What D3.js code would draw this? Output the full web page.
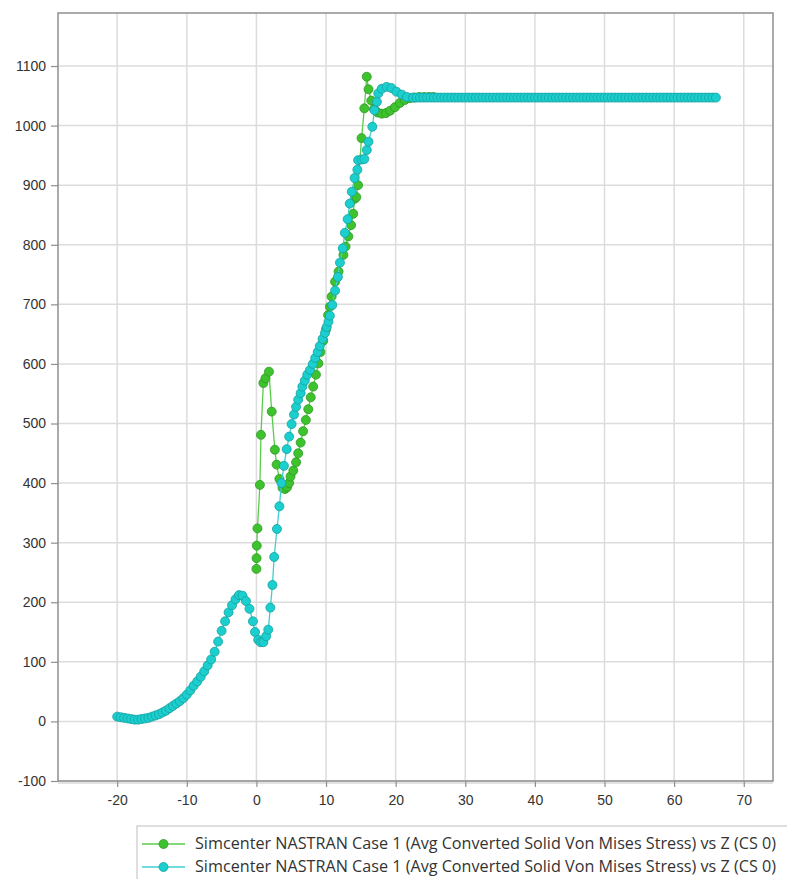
<!DOCTYPE html>
<html>
<head>
<meta charset="utf-8">
<script src="https://cdn.jsdelivr.net/npm/d3@7"></script>
<style>
  body { margin: 0; background: #fff; }
  svg { display: block; font-family: "Open Sans", "Noto Sans", sans-serif; }
</style>
</head>
<body>
<svg id="chart" width="787" height="879"></svg>
<script>
const xTicks = [-20, -10, 0, 10, 20, 30, 40, 50, 60, 70];
const yTicks = [-100, 0, 100, 200, 300, 400, 500, 600, 700, 800, 900, 1000, 1100];

const legendLabels = [
  "Simcenter NASTRAN Case 1 (Avg Converted Solid Von Mises Stress) vs Z (CS 0)",
  "Simcenter NASTRAN Case 1 (Avg Converted Solid Von Mises Stress) vs Z (CS 0)"
];

// green series (z, stress)
const greenZ = [0, 0.02, 0.05, 0.15, 0.5, 0.65, 1.0, 1.3, 1.8, 2.2, 2.65, 2.9, 3.3, 3.75, 4.1, 4.4, 4.7, 4.9,
  5.3, 5.7, 6.0, 6.35, 6.7, 7.1, 7.45, 7.8, 8.15, 8.55, 8.9, 9.2, 9.6, 10.0, 10.3, 10.55, 10.8, 11.3, 11.8,
  12.5, 12.8, 13.2, 13.6, 13.9, 14.1, 14.35, 14.6, 15.1, 15.5, 15.85, 16.1, 16.5, 16.9, 17.4, 18.0, 18.6,
  19.2, 19.9, 20.6, 21.3, 22.0, 22.7, 23.4, 24.1, 24.8, 25.4];
const greenV = [256, 274, 295, 324, 397, 481, 568, 576, 587, 520, 456, 431, 407, 392, 390, 393, 400, 411,
  421, 435, 450, 468, 487, 506, 524, 544, 562, 582, 601, 620, 639, 658, 682, 696, 713, 738, 755,
  783, 797, 814, 833, 852, 877, 880, 900, 979, 1029, 1082, 1061, 1042, 1028, 1022, 1020, 1021,
  1025, 1031, 1038, 1043, 1046, 1047, 1048, 1048, 1048, 1048];

// cyan series (z, stress)
const cyanZ = [-20, -19.5, -19, -18.5, -18, -17.5, -17, -16.5, -16, -15.5, -15, -14.5, -14, -13.5, -13,
  -12.5, -12, -11.5, -11, -10.5, -10, -9.5, -9, -8.5, -8, -7.5, -7, -6.5, -6, -5.5, -5, -4.5, -4, -3.5,
  -3, -2.5, -2, -1.5, -1, -0.5, -0.2, 0.25, 0.6, 1.0, 1.4, 1.7, 2.0, 2.3, 2.55, 2.95, 3.3, 3.6, 3.95,
  4.35, 4.7, 5.05, 5.4, 5.7, 6.0, 6.35, 6.6, 6.95, 7.3, 7.7, 8.1, 8.45, 8.8, 9.1, 9.5, 9.85, 10.1,
  10.35, 10.55, 10.9, 11.3, 11.7, 12.0, 12.4, 12.7, 13.1, 13.4, 13.7, 14.1, 14.5, 14.6, 15.1, 15.5,
  15.85, 16.1, 16.65, 16.95, 17.3, 17.5, 18.0, 18.7, 19.4, 20.1, 20.9, 21.6,
  22.5, 23, 23.5, 24, 24.5, 25, 25.5, 26, 26.5, 27, 27.5, 28, 28.5, 29, 29.5, 30, 30.5, 31, 31.5, 32,
  32.5, 33, 33.5, 34, 34.5, 35, 35.5, 36, 36.5, 37, 37.5, 38, 38.5, 39, 39.5, 40, 40.5, 41, 41.5, 42,
  42.5, 43, 43.5, 44, 44.5, 45, 45.5, 46, 46.5, 47, 47.5, 48, 48.5, 49, 49.5, 50, 50.5, 51, 51.5, 52,
  52.5, 53, 53.5, 54, 54.5, 55, 55.5, 56, 56.5, 57, 57.5, 58, 58.5, 59, 59.5, 60, 60.5, 61, 61.5, 62,
  62.5, 63, 63.5, 64, 64.5, 65, 65.5, 66];
const cyanV = [8, 7, 6, 5, 4, 3, 3, 4, 5, 6, 8, 10, 12, 15, 18,
  22, 26, 30, 34, 39, 45, 52, 60, 67, 75, 84, 94, 104, 117, 134, 152, 168, 183, 195,
  205, 212, 211, 202, 189, 168, 150, 137, 133, 133, 143, 154, 191, 229, 276, 323, 361, 400, 429,
  457, 478, 499, 515, 528, 540, 551, 562, 572, 582, 590, 600, 610, 620, 630, 642, 652, 662,
  671, 681, 699, 723, 746, 770, 794, 820, 843, 869, 889, 912, 926, 942, 943, 944,
  959, 973, 998, 1026, 1040, 1054, 1062, 1065, 1063, 1057, 1052, 1048,
  1047, 1047, 1047, 1047, 1047, 1047, 1047, 1047, 1047, 1047, 1047, 1047, 1047, 1047, 1047, 1047, 1047, 1047, 1047, 1047,
  1047, 1047, 1047, 1047, 1047, 1047, 1047, 1047, 1047, 1047, 1047, 1047, 1047, 1047, 1047, 1047, 1047, 1047, 1047, 1047,
  1047, 1047, 1047, 1047, 1047, 1047, 1047, 1047, 1047, 1047, 1047, 1047, 1047, 1047, 1047, 1047, 1047, 1047, 1047, 1047,
  1047, 1047, 1047, 1047, 1047, 1047, 1047, 1047, 1047, 1047, 1047, 1047, 1047, 1047, 1047, 1047, 1047, 1047, 1047, 1047,
  1047, 1047, 1047, 1047, 1047, 1047, 1047, 1047];

const series = [
  { z: greenZ, v: greenV, line: "#5ccb4c", fill: "#3ec22e", stroke: "#2c9a22" },
  { z: cyanZ, v: cyanV, line: "#3fcfcf", fill: "#1ccfcf", stroke: "#15a0a0" }
];

const svg = d3.select("#chart");
const plotLeft = 58, plotRight = 773, plotTop = 13, plotBottom = 781;

const x = d3.scaleLinear().domain([-28.5, 74.2]).range([plotLeft, plotRight]);
const y = d3.scaleLinear().domain([-100, 1189]).range([plotBottom, plotTop]);

// grid
svg.append("g").selectAll("line").data(xTicks).enter().append("line")
  .attr("x1", d => x(d)).attr("x2", d => x(d))
  .attr("y1", plotTop).attr("y2", plotBottom)
  .attr("stroke", "#dcdcdc").attr("stroke-width", 1.5);
svg.append("g").selectAll("line").data(yTicks).enter().append("line")
  .attr("x1", plotLeft).attr("x2", plotRight)
  .attr("y1", d => y(d)).attr("y2", d => y(d))
  .attr("stroke", "#dcdcdc").attr("stroke-width", 1.5);

// frame
svg.append("rect")
  .attr("x", plotLeft).attr("y", plotTop)
  .attr("width", plotRight - plotLeft).attr("height", plotBottom - plotTop)
  .attr("fill", "none").attr("stroke", "#8f8f8f").attr("stroke-width", 1.5);
svg.append("line")
  .attr("x1", plotLeft).attr("x2", plotRight)
  .attr("y1", plotBottom + 2).attr("y2", plotBottom + 2)
  .attr("stroke", "#e2e2e2").attr("stroke-width", 2);

// axes (plain hyphen for negatives, like the original)
const fmt = d => String(d);
const xAxis = svg.append("g")
  .attr("transform", "translate(0," + plotBottom + ")")
  .call(d3.axisBottom(x).tickValues(xTicks).tickFormat(fmt).tickSize(6).tickPadding(8));
const yAxis = svg.append("g")
  .attr("transform", "translate(" + plotLeft + ",0)")
  .call(d3.axisLeft(y).tickValues(yTicks).tickFormat(fmt).tickSize(7).tickPadding(5));
[xAxis, yAxis].forEach(a => {
  a.select(".domain").remove();
  a.selectAll(".tick line").attr("stroke", "#8f8f8f").attr("stroke-width", 1.2);
  a.selectAll(".tick text").attr("fill", "#333").style("font-size", "14px");
});

// series
const line = d3.line().x(d => x(d[0])).y(d => y(d[1]));
series.forEach(s => {
  const pts = s.z.map((z, i) => [z, s.v[i]]);
  svg.append("path")
    .datum(pts)
    .attr("d", line)
    .attr("fill", "none")
    .attr("stroke", s.line)
    .attr("stroke-width", 1.3);
  svg.append("g").selectAll("circle").data(pts).enter().append("circle")
    .attr("cx", d => x(d[0])).attr("cy", d => y(d[1]))
    .attr("r", 4.5)
    .attr("fill", s.fill)
    .attr("stroke", s.stroke)
    .attr("stroke-width", 0.8);
});

// legend
const legend = svg.append("g");
legend.append("rect")
  .attr("x", 137).attr("y", 826).attr("width", 660).attr("height", 70)
  .attr("fill", "#fff").attr("stroke", "#c8c8c8").attr("stroke-width", 1.2);
legendLabels.forEach((label, i) => {
  const s = series[i];
  const ly = 844 + i * 23;
  legend.append("line")
    .attr("x1", 142).attr("x2", 185).attr("y1", ly).attr("y2", ly)
    .attr("stroke", s.line).attr("stroke-width", 1.5);
  legend.append("circle")
    .attr("cx", 163.5).attr("cy", ly).attr("r", 4.5)
    .attr("fill", s.fill).attr("stroke", s.stroke).attr("stroke-width", 0.8);
  legend.append("text")
    .attr("x", 195).attr("y", ly).attr("dy", "0.35em")
    .attr("fill", "#333").style("font-size", "15.5px")
    .attr("textLength", 581).attr("lengthAdjust", "spacingAndGlyphs")
    .text(label);
});
</script>
</body>
</html>
